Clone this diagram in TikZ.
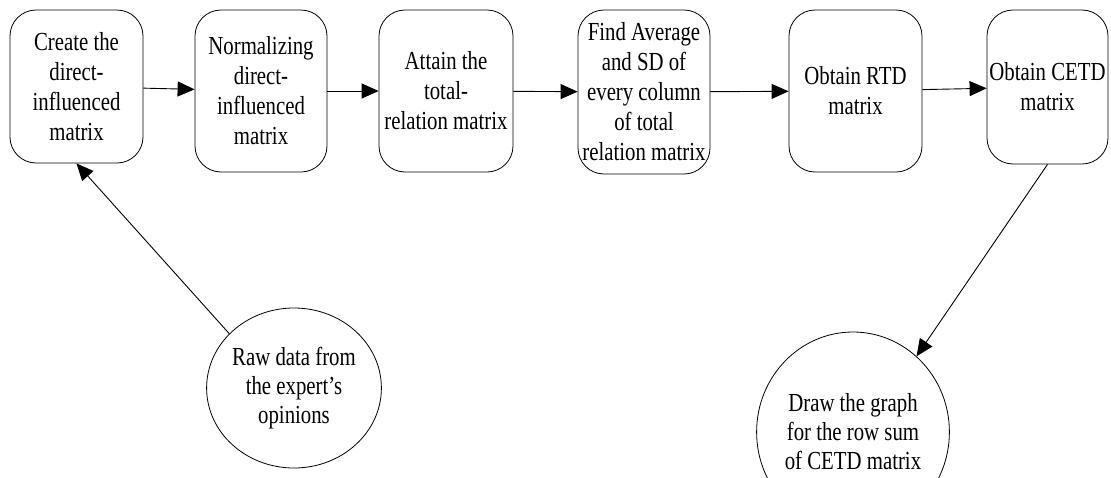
\documentclass[tikz,border=0pt]{standalone}
\usepackage{fontspec}
\setmainfont{Liberation Serif}[FakeStretch=0.8]
\usepackage{tikz}
\usetikzlibrary{shapes.geometric, arrows.meta, positioning}

\begin{document}
\begin{tikzpicture}[
    x=1pt, y=-1pt,
    block/.style={rectangle, draw, rounded corners=26pt, line width=0.8pt, align=center, inner sep=0pt, font=\fontsize{26}{30}\selectfont},
    endpoint/.style={ellipse, draw, line width=0.8pt, align=center, inner sep=0pt, font=\fontsize{26}{29}\selectfont},
    arrow/.style={-{Triangle[length=17pt, width=15pt]}, line width=0.9pt},
]
    \useasboundingbox (0,0) rectangle (1111,477);

    \node[block, minimum width=133pt, minimum height=153pt] at (76.5,86.5) (create) {Create the\\direct-\\influenced\\matrix};
    \node[block, minimum width=132pt, minimum height=162pt] at (261,91) (normalize) {Normalizing\\direct-\\influenced\\matrix};
    \node[block, minimum width=134pt, minimum height=162pt] at (446,91) (total) {Attain the\\total-\\relation matrix};
    \node[block, minimum width=132pt, minimum height=164pt] at (644,92) (average) {Find Average\\and SD of\\every column\\of total\\relation matrix};
    \node[block, minimum width=133pt, minimum height=162pt] at (855.5,91) (rtd) {Obtain RTD\\matrix};
    \node[block, minimum width=121pt, minimum height=154pt] at (1047.5,87) (cetd) {Obtain CETD\\matrix};

    \node[endpoint, minimum width=158pt, minimum height=160pt] at (294,388) (raw) {Raw data from\\the expert's\\opinions};
    \node[endpoint, minimum width=166pt, minimum height=200pt] at (853,432) (graph) {Draw the graph\\for the row sum\\of CETD matrix};

    \draw[arrow] (create) -- (normalize);
    \draw[arrow] (normalize) -- (total);
    \draw[arrow] (total) -- (average);
    \draw[arrow] (average) -- (rtd);
    \draw[arrow] (rtd) -- (cetd);
    \draw[arrow] (raw.140) -- (create.south);
    \draw[arrow] (cetd.south) -- (graph.50);
\end{tikzpicture}
\end{document}
